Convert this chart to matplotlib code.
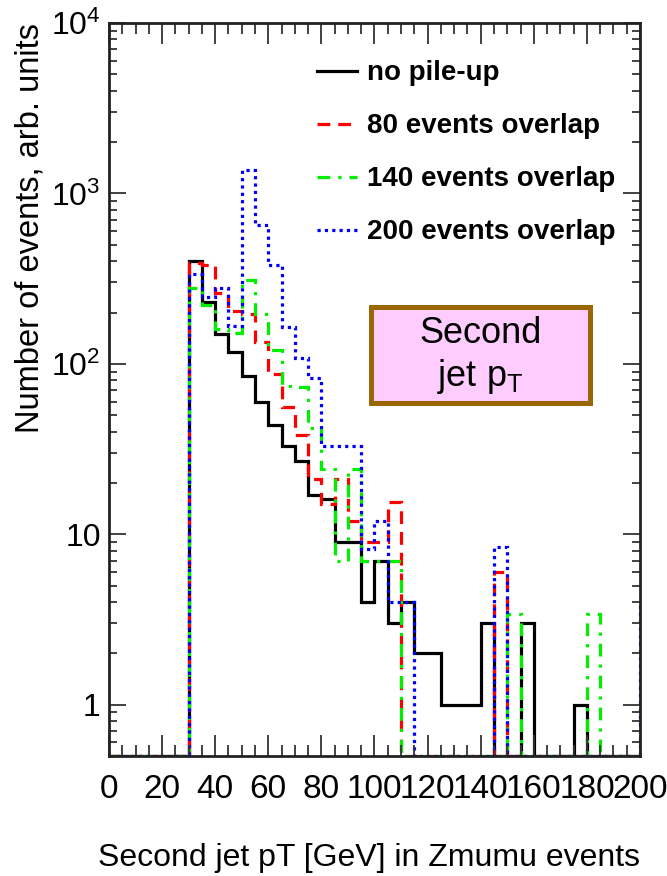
import numpy as np
import matplotlib
matplotlib.use("Agg")
import matplotlib.pyplot as plt
from matplotlib.lines import Line2D
from matplotlib.patches import Rectangle
from matplotlib.ticker import FuncFormatter, LogLocator, MultipleLocator

plt.rcParams['font.family'] = ['Liberation Sans', 'DejaVu Sans']
plt.rcParams['mathtext.fontset'] = 'custom'
plt.rcParams['mathtext.rm'] = 'Liberation Sans'
plt.rcParams['mathtext.it'] = 'Liberation Sans:italic'

# 5 GeV bins, 0 .. 205 (last bin = overflow, outside the x range)
edges = np.arange(0, 210, 5)

# bin contents, one value per bin starting at 0 GeV
no_pileup = [0, 0, 0, 0, 0, 0, 400, 230, 150, 118, 85, 60, 44, 33, 27, 17, 16, 9, 9, 4,
             7, 3, 4, 2, 2, 1, 1, 1, 3, 0, 0, 3, 0, 0, 0, 1, 0, 0, 0, 0, 0]
pu80 = [0, 0, 0, 0, 0, 0, 390, 380, 260, 205, 195, 135, 87, 56, 38, 21, 15, 21, 12, 9,
        9, 15.5, 0, 0, 0, 0, 0, 0, 0, 6, 0, 0, 0, 0, 0, 0, 0, 0, 0, 0, 0]
pu140 = [0, 0, 0, 0, 0, 0, 280, 220, 160, 152, 310, 197, 120, 74, 73, 42, 24, 7, 24, 7,
         7, 7, 0, 0, 0, 0, 0, 0, 0, 0, 3.4, 0, 0, 0, 0, 0, 3.4, 0, 0, 0, 0]
pu200 = [0, 0, 0, 0, 0, 0, 335, 248, 277, 167, 1380, 650, 380, 165, 108, 83, 33, 33, 33, 8.2,
         12, 4, 4, 0, 0, 0, 0, 0, 0, 8.4, 0, 0, 0, 0, 0, 0, 0, 0, 0, 0, 4]

labels = ['no pile-up', '80 events overlap', '140 events overlap', '200 events overlap']
colors = ['black', '#ff0000', '#00ee00', '#0000ff']
styles = ['-', (0, (4, 2.5)), (0, (4, 2.5, 1, 2.5)), (0, (1, 1.3))]

ymin, ymax = 0.5, 1e4

fig = plt.figure(figsize=(6.67, 8.76), dpi=100)
ax = fig.add_axes([0.1634, 0.137, 0.7961, 0.8368])

series = [no_pileup, pu80, pu140, pu200]
handles = []
for vals, c, ls, lab in zip(series, colors, styles, labels):
    v = np.maximum(np.array(vals, dtype=float), ymin)
    ax.stairs(v, edges, baseline=ymin, color=c, linestyle=ls, linewidth=2.3)
    handles.append(Line2D([], [], color=c, linestyle=ls, linewidth=2.3))

ax.set_yscale('log')
ax.set_xlim(0, 200)
ax.set_ylim(ymin, ymax)

ax.xaxis.set_major_locator(MultipleLocator(20))
ax.xaxis.set_minor_locator(MultipleLocator(5))
ax.yaxis.set_major_locator(LogLocator(base=10, numticks=10))
ax.yaxis.set_minor_locator(LogLocator(base=10, subs=np.arange(2, 10), numticks=10))


def yfmt(v, pos):
    e = int(round(np.log10(v)))
    if e == 0:
        return '1'
    if e == 1:
        return '10'
    return r'$\mathregular{10^{%d}}$' % e


ax.yaxis.set_major_formatter(FuncFormatter(yfmt))
ax.yaxis.set_minor_formatter(FuncFormatter(lambda v, p: ''))

ax.tick_params(axis='x', which='both', direction='in', top=True, bottom=True,
               labelsize=24, pad=13, color='#333333')
ax.tick_params(axis='x', which='major', length=15, width=1.3)
ax.tick_params(axis='x', which='minor', length=8, width=1.3)
ax.tick_params(axis='y', which='both', direction='in', left=True, right=True,
               labelsize=23, pad=6, color='#333333')
ax.tick_params(axis='y', which='major', length=12, width=1.3)
ax.tick_params(axis='y', which='minor', length=6, width=1.3)
for s in ax.spines.values():
    s.set_linewidth(2.0)
    s.set_color('#222222')

ax.set_xlabel('Second jet pT [GeV] in Zmumu events', fontsize=23, labelpad=27, loc='right')
ax.set_ylabel('Number of events, arb. units', fontsize=23.5, labelpad=4, loc='top')

leg = ax.legend(handles, labels, loc='upper left', bbox_to_anchor=(0.345, 0.983),
                frameon=False, prop={'weight': 'bold', 'size': 20},
                handlelength=1.45, handletextpad=0.35, labelspacing=0.97)

# annotation box
fig.patches.append(Rectangle((0.556, 0.540), 0.328, 0.1096, transform=fig.transFigure,
                             facecolor='#ffccff', edgecolor='#996600', linewidth=3.6))
fig.text(0.72, 0.619, 'Second', ha='center', va='center', fontsize=26)
fig.text(0.72, 0.570, r'jet p$_\mathregular{T}$', ha='center', va='center', fontsize=26)

fig.savefig('out.png', dpi=100)
